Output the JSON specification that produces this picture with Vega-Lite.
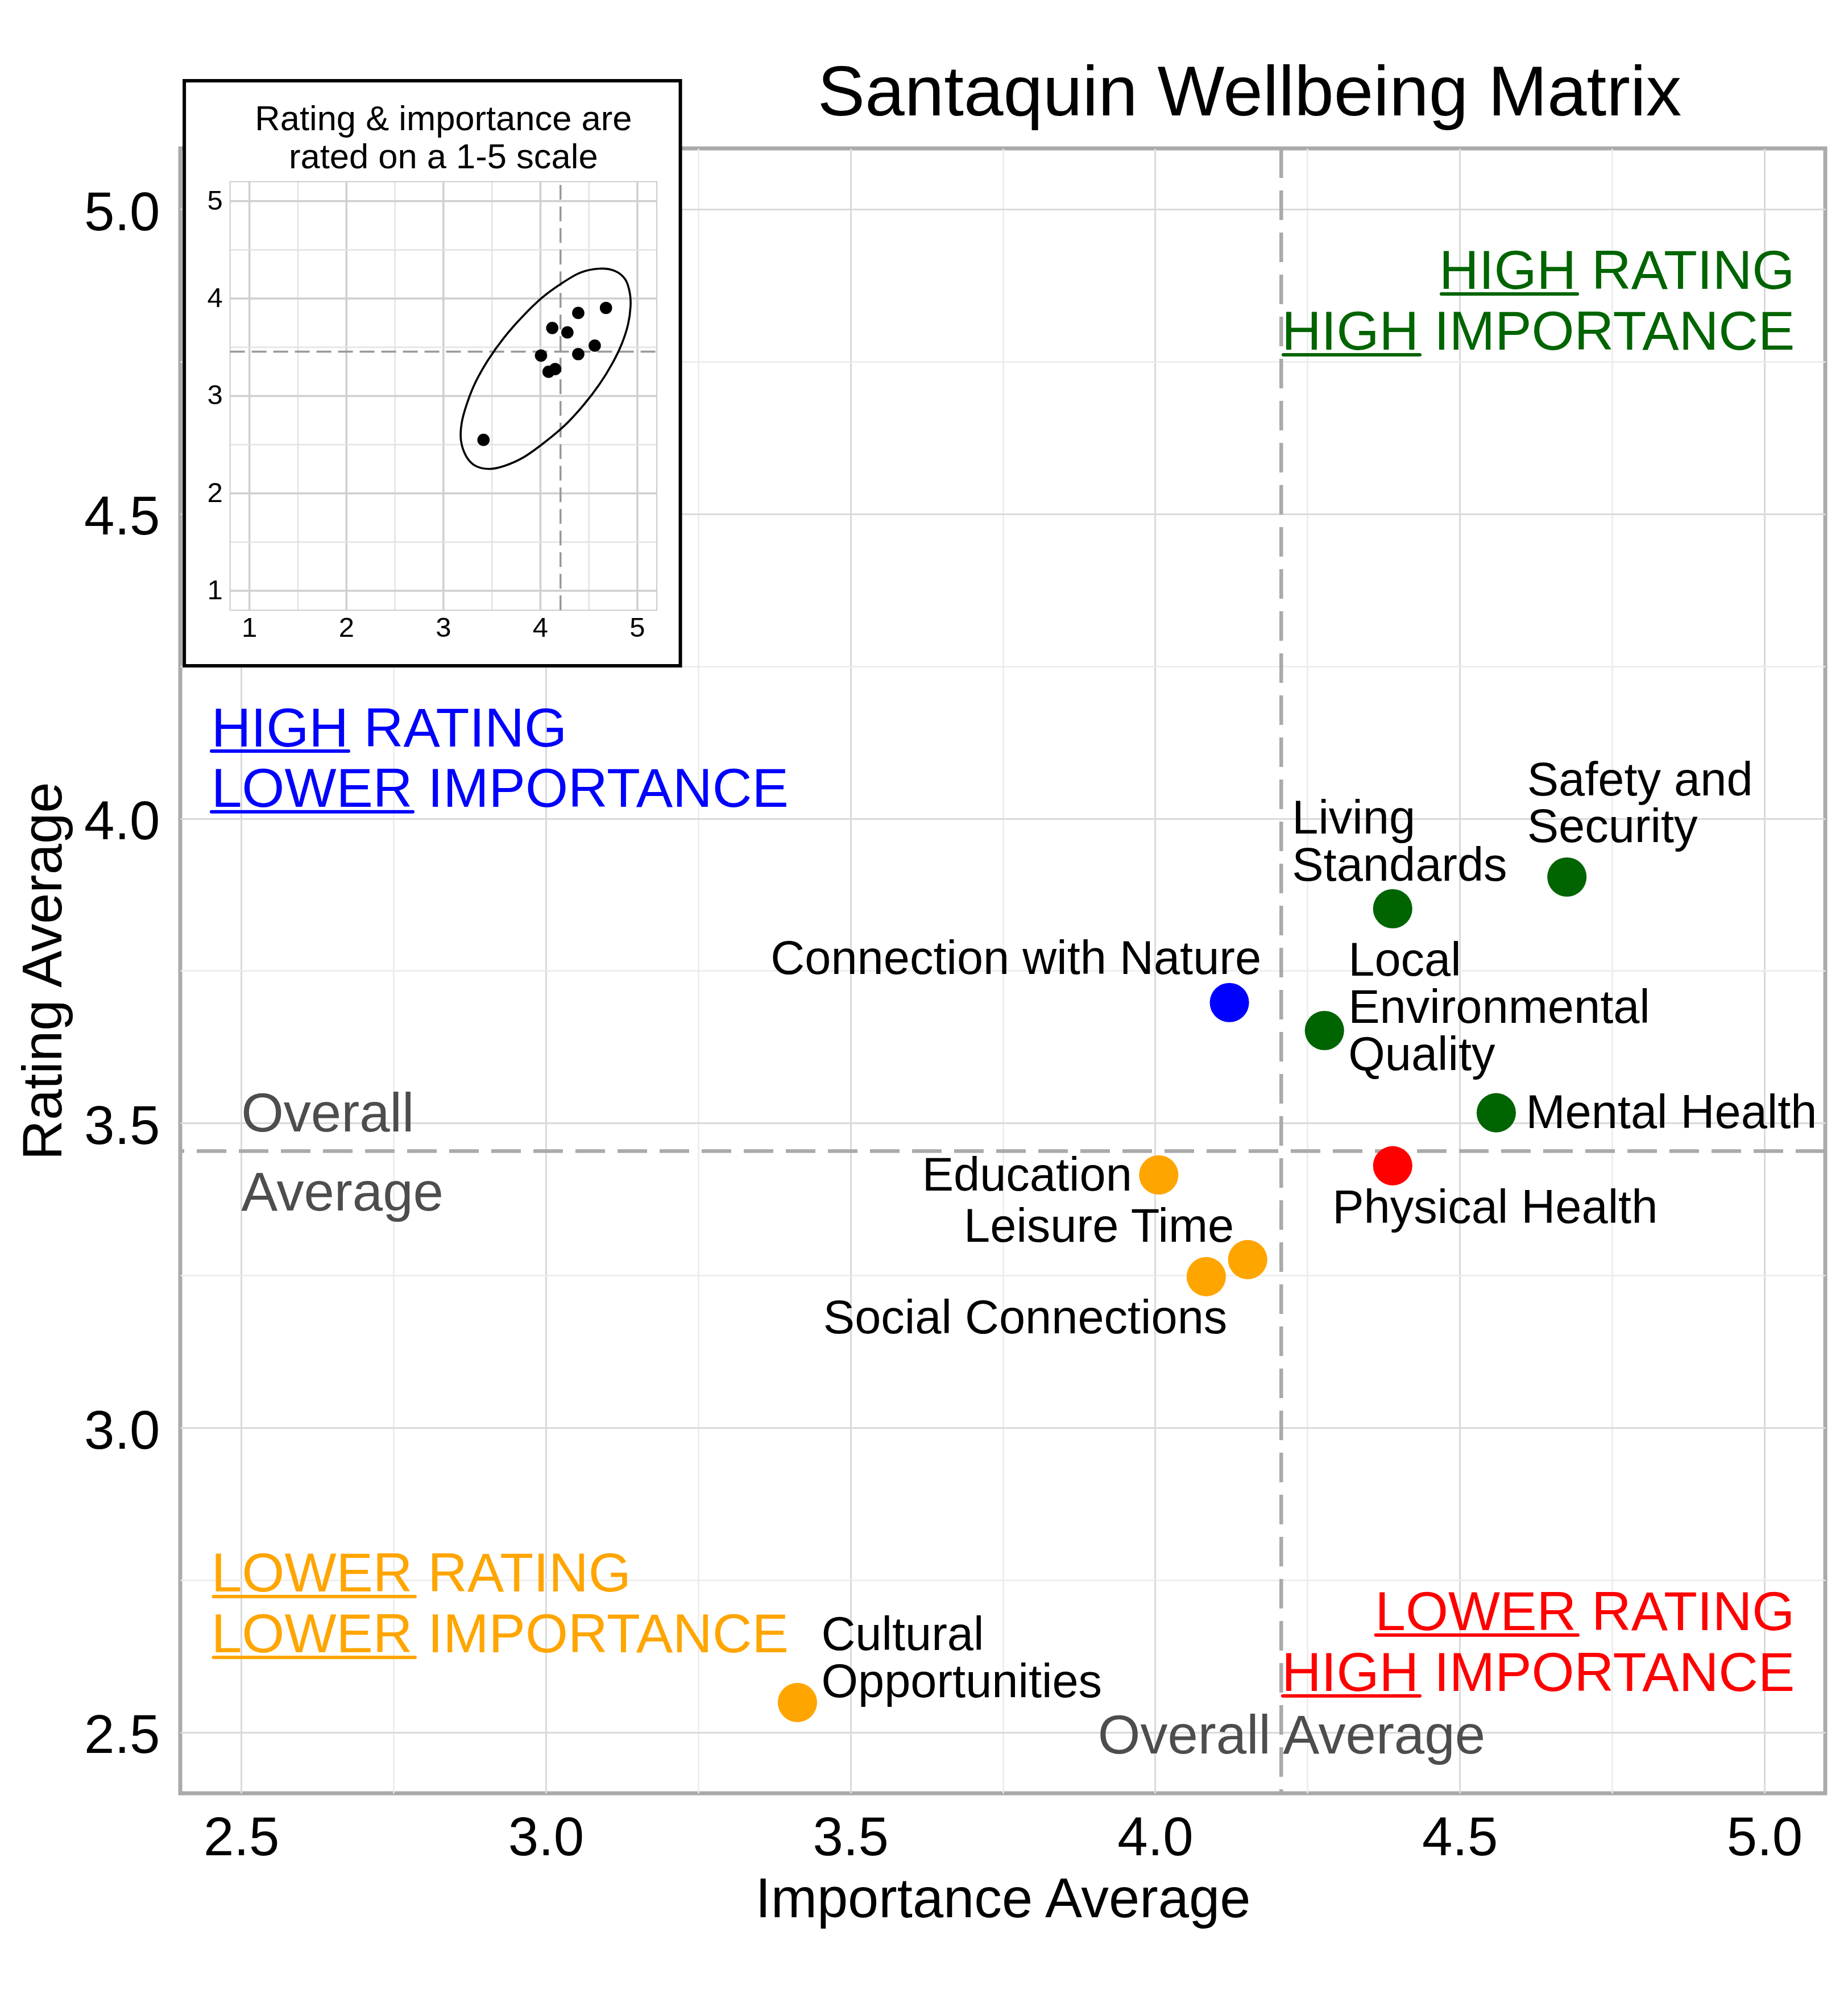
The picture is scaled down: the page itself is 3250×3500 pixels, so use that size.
{
  "$schema": "https://vega.github.io/schema/vega-lite/v6.json",
  "width": 2893,
  "height": 2893,
  "autosize": {"type": "none"},
  "padding": {"left": 317, "top": 261, "right": 40, "bottom": 346},
  "background": "white",
  "config": {
    "font": "Liberation Sans",
    "view": {"stroke": "#aaaaaa", "strokeWidth": 7},
    "text": {"font": "Liberation Sans"}
  },
  "title": {
    "text": "Santaquin Wellbeing Matrix",
    "font": "Liberation Sans",
    "fontSize": 125,
    "fontWeight": "normal",
    "color": "black",
    "anchor": "middle",
    "frame": "group",
    "baseline": "alphabetic",
    "dx": 434,
    "offset": -189
  },
  "datasets": {
    "d": [
      {"name": "Safety and Security", "label": "Safety and\nSecurity", "importance": 4.676, "rating": 3.904, "quadrant": "High rating, high importance"},
      {"name": "Living Standards", "label": "Living\nStandards", "importance": 4.390, "rating": 3.852, "quadrant": "High rating, high importance"},
      {"name": "Local Environmental Quality", "label": "Local\nEnvironmental\nQuality", "importance": 4.278, "rating": 3.652, "quadrant": "High rating, high importance"},
      {"name": "Mental Health", "label": "Mental Health", "importance": 4.560, "rating": 3.517, "quadrant": "High rating, high importance"},
      {"name": "Physical Health", "label": "Physical Health", "importance": 4.390, "rating": 3.430, "quadrant": "Lower rating, high importance"},
      {"name": "Connection with Nature", "label": "Connection with Nature", "importance": 4.122, "rating": 3.698, "quadrant": "High rating, lower importance"},
      {"name": "Education", "label": "Education", "importance": 4.006, "rating": 3.415, "quadrant": "Lower rating, lower importance"},
      {"name": "Leisure Time", "label": "Leisure Time", "importance": 4.152, "rating": 3.276, "quadrant": "Lower rating, lower importance"},
      {"name": "Social Connections", "label": "Social Connections", "importance": 4.084, "rating": 3.248, "quadrant": "Lower rating, lower importance"},
      {"name": "Cultural Opportunities", "label": "Cultural\nOpportunities", "importance": 3.413, "rating": 2.549, "quadrant": "Lower rating, lower importance"}
    ],
    "ellipse": [
      {"o": 1, "ex": 4.609, "ey": 4.307},
      {"o": 2, "ex": 4.769, "ey": 4.283},
      {"o": 3, "ex": 4.876, "ey": 4.195},
      {"o": 4, "ex": 4.922, "ey": 4.056},
      {"o": 5, "ex": 4.929, "ey": 3.916},
      {"o": 6, "ex": 4.904, "ey": 3.737},
      {"o": 7, "ex": 4.840, "ey": 3.538},
      {"o": 8, "ex": 4.744, "ey": 3.339},
      {"o": 9, "ex": 4.609, "ey": 3.120},
      {"o": 10, "ex": 4.449, "ey": 2.912},
      {"o": 11, "ex": 4.254, "ey": 2.701},
      {"o": 12, "ex": 4.041, "ey": 2.522},
      {"o": 13, "ex": 3.828, "ey": 2.371},
      {"o": 14, "ex": 3.632, "ey": 2.283},
      {"o": 15, "ex": 3.472, "ey": 2.251},
      {"o": 16, "ex": 3.330, "ey": 2.283},
      {"o": 17, "ex": 3.234, "ey": 2.382},
      {"o": 18, "ex": 3.181, "ey": 2.542},
      {"o": 19, "ex": 3.188, "ey": 2.721},
      {"o": 20, "ex": 3.242, "ey": 2.920},
      {"o": 21, "ex": 3.330, "ey": 3.139},
      {"o": 22, "ex": 3.462, "ey": 3.371},
      {"o": 23, "ex": 3.625, "ey": 3.598},
      {"o": 24, "ex": 3.810, "ey": 3.809},
      {"o": 25, "ex": 4.016, "ey": 4.008},
      {"o": 26, "ex": 4.218, "ey": 4.155},
      {"o": 27, "ex": 4.414, "ey": 4.267}
    ],
    "igrid": [
      {"v": 1}, {"v": 1.5}, {"v": 2}, {"v": 2.5}, {"v": 3}, {"v": 3.5}, {"v": 4}, {"v": 4.5}, {"v": 5}
    ],
    "iticks": [
      {"v": 1}, {"v": 2}, {"v": 3}, {"v": 4}, {"v": 5}
    ]
  },
  "resolve": {"scale": {"x": "independent", "y": "independent", "color": "independent"}},
  "layer": [
    {
      "data": {"name": "d"},
      "layer": [
        {
          "transform": [{"aggregate": [{"op": "mean", "field": "importance", "as": "mi"}]}],
          "mark": {"type": "rule", "color": "#aaaaaa", "strokeWidth": 6.5, "strokeDash": [52, 22]},
          "encoding": {"x": {"field": "mi", "type": "quantitative", "scale": {"domain": [2.4, 5.1], "nice": false, "zero": false}}}
        },
        {
          "transform": [{"aggregate": [{"op": "mean", "field": "rating", "as": "mr"}]}],
          "mark": {"type": "rule", "color": "#aaaaaa", "strokeWidth": 6.5, "strokeDash": [52, 22]},
          "encoding": {"y": {"field": "mr", "type": "quantitative", "scale": {"domain": [2.4, 5.1], "nice": false, "zero": false}}}
        },
        {
          "mark": {"type": "circle", "size": 4780, "opacity": 1},
          "encoding": {
            "x": {
              "field": "importance", "type": "quantitative",
              "scale": {"domain": [2.4, 5.1], "nice": false, "zero": false},
              "axis": {
                "title": "Importance Average",
                "values": [2.5, 2.75, 3, 3.25, 3.5, 3.75, 4, 4.25, 4.5, 4.75, 5],
                "format": ".1f",
                "labelExpr": "datum.value * 2 % 1 === 0 ? datum.label : ''",
                "ticks": false, "domain": false,
                "labelPadding": 32, "labelFontSize": 96, "labelColor": "black", "labelFont": "Liberation Sans",
                "titleFontSize": 97.5, "titleFontWeight": "normal", "titleColor": "black", "titleFont": "Liberation Sans",
                "titlePadding": 13,
                "labelOverlap": false, "labelFlush": false,
                "gridColor": {"condition": {"test": "datum.value * 2 % 1 === 0", "value": "#dadada"}, "value": "#ebebeb"},
                "gridWidth": {"condition": {"test": "datum.value * 2 % 1 === 0", "value": 3}, "value": 2.5}
              }
            },
            "y": {
              "field": "rating", "type": "quantitative",
              "scale": {"domain": [2.4, 5.1], "nice": false, "zero": false},
              "axis": {
                "title": "Rating Average",
                "values": [2.5, 2.75, 3, 3.25, 3.5, 3.75, 4, 4.25, 4.5, 4.75, 5],
                "format": ".1f",
                "labelExpr": "datum.value * 2 % 1 === 0 ? datum.label : ''",
                "ticks": false, "domain": false,
                "labelPadding": 36, "labelFontSize": 96, "labelColor": "black", "labelFont": "Liberation Sans",
                "labelOffset": 7,
                "titleFontSize": 97.5, "titleFontWeight": "normal", "titleColor": "black", "titleFont": "Liberation Sans",
                "titlePadding": 20,
                "labelOverlap": false,
                "gridColor": {"condition": {"test": "datum.value * 2 % 1 === 0", "value": "#dadada"}, "value": "#ebebeb"},
                "gridWidth": {"condition": {"test": "datum.value * 2 % 1 === 0", "value": 3}, "value": 2.5}
              }
            },
            "color": {
              "field": "quadrant", "type": "nominal",
              "scale": {
                "domain": ["High rating, high importance", "High rating, lower importance", "Lower rating, lower importance", "Lower rating, high importance"],
                "range": ["#006400", "#0000ff", "#ffa500", "#ff0000"]
              },
              "legend": null
            }
          }
        },
        {
          "transform": [{"filter": "datum.name === 'Safety and Security'"}],
          "mark": {"type": "text", "align": "left", "baseline": "alphabetic", "dx": -70, "dy": -143.6, "fontSize": 83, "lineBreak": "\n", "lineHeight": 82, "color": "black"},
          "encoding": {"x": {"field": "importance", "type": "quantitative"}, "y": {"field": "rating", "type": "quantitative"}, "text": {"field": "label"}}
        },
        {
          "transform": [{"filter": "datum.name === 'Living Standards'"}],
          "mark": {"type": "text", "align": "left", "baseline": "alphabetic", "dx": -177, "dy": -132, "fontSize": 83, "lineBreak": "\n", "lineHeight": 83, "color": "black"},
          "encoding": {"x": {"field": "importance", "type": "quantitative"}, "y": {"field": "rating", "type": "quantitative"}, "text": {"field": "label"}}
        },
        {
          "transform": [{"filter": "datum.name === 'Local Environmental Quality'"}],
          "mark": {"type": "text", "align": "left", "baseline": "alphabetic", "dx": 42, "dy": -96.4, "fontSize": 83, "lineBreak": "\n", "lineHeight": 83, "color": "black"},
          "encoding": {"x": {"field": "importance", "type": "quantitative"}, "y": {"field": "rating", "type": "quantitative"}, "text": {"field": "label"}}
        },
        {
          "transform": [{"filter": "datum.name === 'Mental Health'"}],
          "mark": {"type": "text", "align": "left", "baseline": "alphabetic", "dx": 52, "dy": 27, "fontSize": 83, "color": "black"},
          "encoding": {"x": {"field": "importance", "type": "quantitative"}, "y": {"field": "rating", "type": "quantitative"}, "text": {"field": "label"}}
        },
        {
          "transform": [{"filter": "datum.name === 'Physical Health'"}],
          "mark": {"type": "text", "align": "left", "baseline": "alphabetic", "dx": -106, "dy": 100.4, "fontSize": 83, "color": "black"},
          "encoding": {"x": {"field": "importance", "type": "quantitative"}, "y": {"field": "rating", "type": "quantitative"}, "text": {"field": "label"}}
        },
        {
          "transform": [{"filter": "datum.name === 'Connection with Nature'"}],
          "mark": {"type": "text", "align": "right", "baseline": "alphabetic", "dx": 56, "dy": -50, "fontSize": 83, "color": "black"},
          "encoding": {"x": {"field": "importance", "type": "quantitative"}, "y": {"field": "rating", "type": "quantitative"}, "text": {"field": "label"}}
        },
        {
          "transform": [{"filter": "datum.name === 'Education'"}],
          "mark": {"type": "text", "align": "right", "baseline": "alphabetic", "dx": -47, "dy": 28, "fontSize": 83, "color": "black"},
          "encoding": {"x": {"field": "importance", "type": "quantitative"}, "y": {"field": "rating", "type": "quantitative"}, "text": {"field": "label"}}
        },
        {
          "transform": [{"filter": "datum.name === 'Leisure Time'"}],
          "mark": {"type": "text", "align": "right", "baseline": "alphabetic", "dx": -24, "dy": -31, "fontSize": 83, "color": "black"},
          "encoding": {"x": {"field": "importance", "type": "quantitative"}, "y": {"field": "rating", "type": "quantitative"}, "text": {"field": "label"}}
        },
        {
          "transform": [{"filter": "datum.name === 'Social Connections'"}],
          "mark": {"type": "text", "align": "right", "baseline": "alphabetic", "dx": 37, "dy": 99.5, "fontSize": 83, "color": "black"},
          "encoding": {"x": {"field": "importance", "type": "quantitative"}, "y": {"field": "rating", "type": "quantitative"}, "text": {"field": "label"}}
        },
        {
          "transform": [{"filter": "datum.name === 'Cultural Opportunities'"}],
          "mark": {"type": "text", "align": "left", "baseline": "alphabetic", "dx": 42, "dy": -92, "fontSize": 83, "lineBreak": "\n", "lineHeight": 83, "color": "black"},
          "encoding": {"x": {"field": "importance", "type": "quantitative"}, "y": {"field": "rating", "type": "quantitative"}, "text": {"field": "label"}}
        },
        {
          "data": {"values": [{}]},
          "mark": {"type": "text", "align": "left", "baseline": "alphabetic", "fontSize": 96, "color": "#4d4d4d"},
          "encoding": {"x": {"datum": 2.5}, "y": {"datum": 3.4864}, "text": {"value": "Overall"}}
        },
        {
          "data": {"values": [{}]},
          "mark": {"type": "text", "align": "left", "baseline": "alphabetic", "fontSize": 96, "color": "#4d4d4d"},
          "encoding": {"x": {"datum": 2.5}, "y": {"datum": 3.3567}, "text": {"value": "Average"}}
        },
        {
          "data": {"values": [{}]},
          "mark": {"type": "text", "align": "center", "baseline": "alphabetic", "fontSize": 96, "color": "#4d4d4d"},
          "encoding": {"x": {"datum": 4.224}, "y": {"datum": 2.4651}, "text": {"value": "Overall Average"}}
        },
        {
          "data": {"values": [{}]},
          "mark": {"type": "text", "align": "right", "baseline": "alphabetic", "fontSize": 96.5, "lineHeight": 107, "color": "#006400"},
          "encoding": {"x": {"datum": 5.05}, "y": {"datum": 4.8695}, "text": {"value": ["HIGH RATING", "HIGH IMPORTANCE"]}}
        },
        {
          "data": {"values": [{}]},
          "mark": {"type": "text", "align": "left", "baseline": "alphabetic", "fontSize": 96.5, "lineHeight": 106, "color": "#0000ff"},
          "encoding": {"x": {"datum": 2.451}, "y": {"datum": 4.1182}, "text": {"value": ["HIGH RATING", "LOWER IMPORTANCE"]}}
        },
        {
          "data": {"values": [{}]},
          "mark": {"type": "text", "align": "left", "baseline": "alphabetic", "fontSize": 96.5, "lineHeight": 107, "color": "#ffa500"},
          "encoding": {"x": {"datum": 2.451}, "y": {"datum": 2.7314}, "text": {"value": ["LOWER RATING", "LOWER IMPORTANCE"]}}
        },
        {
          "data": {"values": [{}]},
          "mark": {"type": "text", "align": "right", "baseline": "alphabetic", "fontSize": 96.5, "lineHeight": 107, "color": "#ff0000"},
          "encoding": {"x": {"datum": 5.05}, "y": {"datum": 2.6682}, "text": {"value": ["LOWER RATING", "HIGH IMPORTANCE"]}}
        },
        {
          "data": {"values": [{}]},
          "mark": {"type": "rule", "color": "#006400", "strokeWidth": 6, "strokeCap": "round"},
          "encoding": {"x": {"datum": 4.4700}, "x2": {"datum": 4.6931}, "y": {"datum": 4.8611}}
        },
        {
          "data": {"values": [{}]},
          "mark": {"type": "rule", "color": "#006400", "strokeWidth": 6, "strokeCap": "round"},
          "encoding": {"x": {"datum": 4.2105}, "x2": {"datum": 4.4345}, "y": {"datum": 4.7612}}
        },
        {
          "data": {"values": [{}]},
          "mark": {"type": "rule", "color": "#0000ff", "strokeWidth": 6, "strokeCap": "round"},
          "encoding": {"x": {"datum": 2.4513}, "x2": {"datum": 2.6762}, "y": {"datum": 4.1107}}
        },
        {
          "data": {"values": [{}]},
          "mark": {"type": "rule", "color": "#0000ff", "strokeWidth": 6, "strokeCap": "round"},
          "encoding": {"x": {"datum": 2.4513}, "x2": {"datum": 2.7817}, "y": {"datum": 4.0111}}
        },
        {
          "data": {"values": [{}]},
          "mark": {"type": "rule", "color": "#ffa500", "strokeWidth": 6, "strokeCap": "round"},
          "encoding": {"x": {"datum": 2.4546}, "x2": {"datum": 2.7854}, "y": {"datum": 2.7230}}
        },
        {
          "data": {"values": [{}]},
          "mark": {"type": "rule", "color": "#ffa500", "strokeWidth": 6, "strokeCap": "round"},
          "encoding": {"x": {"datum": 2.4546}, "x2": {"datum": 2.7854}, "y": {"datum": 2.6231}}
        },
        {
          "data": {"values": [{}]},
          "mark": {"type": "rule", "color": "#ff0000", "strokeWidth": 6, "strokeCap": "round"},
          "encoding": {"x": {"datum": 4.3623}, "x2": {"datum": 4.6939}, "y": {"datum": 2.6598}}
        },
        {
          "data": {"values": [{}]},
          "mark": {"type": "rule", "color": "#ff0000", "strokeWidth": 6, "strokeCap": "round"},
          "encoding": {"x": {"datum": 4.2096}, "x2": {"datum": 4.4345}, "y": {"datum": 2.5599}}
        }
      ]
    },
    {
      "layer": [
        {
          "data": {"values": [{}]},
          "mark": {"type": "rect", "fill": "white", "stroke": "black", "strokeWidth": 6},
          "encoding": {
            "x": {"datum": 0.328, "scale": {"domain": [0.8, 5.2], "range": [87.6, 838.1], "nice": false, "zero": false}, "axis": null},
            "x2": {"datum": 5.443},
            "y": {"datum": 0.229, "scale": {"domain": [0.8, 5.2], "range": [812.3, 58.5], "nice": false, "zero": false}, "axis": null},
            "y2": {"datum": 6.236}
          }
        },
        {
          "data": {"name": "igrid"},
          "mark": {"type": "rule"},
          "encoding": {
            "x": {"field": "v", "type": "quantitative", "axis": null},
            "y": {"datum": 0.8, "axis": null},
            "y2": {"datum": 5.2},
            "color": {"condition": {"test": "datum.v % 1 === 0", "value": "#cfcfcf"}, "value": "#e3e3e3"},
            "strokeWidth": {"condition": {"test": "datum.v % 1 === 0", "value": 3.5}, "value": 2.5}
          }
        },
        {
          "data": {"name": "igrid"},
          "mark": {"type": "rule"},
          "encoding": {
            "y": {"field": "v", "type": "quantitative", "axis": null},
            "x": {"datum": 0.8, "axis": null},
            "x2": {"datum": 5.2},
            "color": {"condition": {"test": "datum.v % 1 === 0", "value": "#cfcfcf"}, "value": "#e3e3e3"},
            "strokeWidth": {"condition": {"test": "datum.v % 1 === 0", "value": 3.5}, "value": 2.5}
          }
        },
        {
          "data": {"values": [{}]},
          "mark": {"type": "rect", "fill": null, "fillOpacity": 0, "stroke": "#cccccc", "strokeWidth": 2},
          "encoding": {
            "x": {"datum": 0.8, "axis": null},
            "x2": {"datum": 5.2},
            "y": {"datum": 0.8, "axis": null},
            "y2": {"datum": 5.2}
          }
        },
        {
          "data": {"name": "d"},
          "transform": [{"aggregate": [{"op": "mean", "field": "importance", "as": "mi"}]}],
          "mark": {"type": "rule", "color": "#999999", "strokeWidth": 3.5, "strokeDash": [26, 12]},
          "encoding": {
            "x": {"field": "mi", "type": "quantitative", "axis": null},
            "y": {"datum": 0.8, "axis": null},
            "y2": {"datum": 5.2}
          }
        },
        {
          "data": {"name": "d"},
          "transform": [{"aggregate": [{"op": "mean", "field": "rating", "as": "mr"}]}],
          "mark": {"type": "rule", "color": "#999999", "strokeWidth": 3.5, "strokeDash": [26, 12]},
          "encoding": {
            "y": {"field": "mr", "type": "quantitative", "axis": null},
            "x": {"datum": 0.8, "axis": null},
            "x2": {"datum": 5.2}
          }
        },
        {
          "data": {"name": "ellipse"},
          "mark": {"type": "line", "interpolate": "cardinal-closed", "color": "black", "strokeWidth": 3.6},
          "encoding": {
            "x": {"field": "ex", "type": "quantitative", "axis": null},
            "y": {"field": "ey", "type": "quantitative", "axis": null},
            "order": {"field": "o", "type": "quantitative"}
          }
        },
        {
          "data": {"name": "d"},
          "mark": {"type": "circle", "size": 470, "color": "black", "opacity": 1},
          "encoding": {
            "x": {"field": "importance", "type": "quantitative", "axis": null},
            "y": {"field": "rating", "type": "quantitative", "axis": null}
          }
        },
        {
          "data": {"name": "iticks"},
          "mark": {"type": "text", "align": "center", "baseline": "alphabetic", "fontSize": 49, "color": "black"},
          "encoding": {
            "x": {"field": "v", "type": "quantitative", "axis": null},
            "y": {"datum": 0.53, "axis": null},
            "text": {"field": "v", "type": "quantitative", "format": "d"}
          }
        },
        {
          "data": {"name": "iticks"},
          "mark": {"type": "text", "align": "right", "baseline": "middle", "fontSize": 49, "color": "black"},
          "encoding": {
            "y": {"field": "v", "type": "quantitative", "axis": null},
            "x": {"datum": 0.725, "axis": null},
            "text": {"field": "v", "type": "quantitative", "format": "d"}
          }
        },
        {
          "data": {"values": [{}]},
          "mark": {"type": "text", "align": "center", "baseline": "alphabetic", "fontSize": 61.5, "lineHeight": 67, "color": "black"},
          "encoding": {
            "x": {"datum": 3.0, "axis": null},
            "y": {"datum": 5.729, "axis": null},
            "text": {"value": ["Rating & importance are", "rated on a 1-5 scale"]}
          }
        }
      ]
    }
  ]
}
